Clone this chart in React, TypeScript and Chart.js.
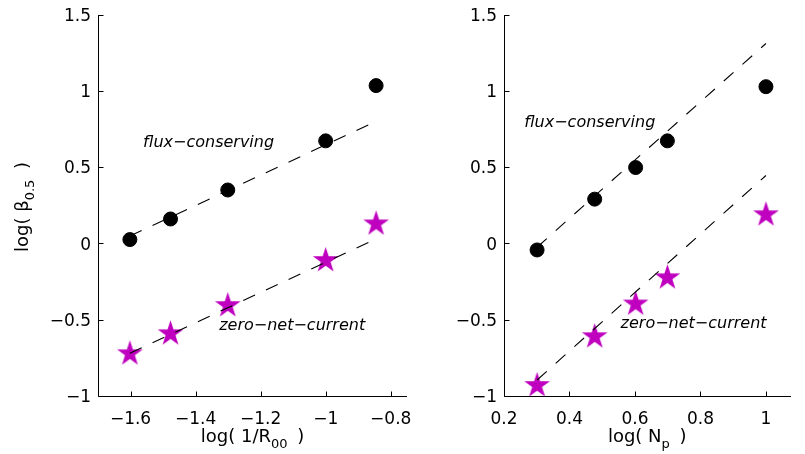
import React, { useEffect, useRef } from "react";
import { Chart, registerables } from "chart.js";

Chart.register(...registerables);

// ---- data ----
const leftX = [-1.602, -1.477, -1.301, -1.0, -0.845];
const leftFlux = [0.025, 0.16, 0.35, 0.672, 1.034];
const leftZero = [-0.723, -0.592, -0.407, -0.112, 0.128];
const leftFitX = [-1.602, -0.845];
const leftFluxFit = [0.048, 0.8];
const leftZeroFit = [-0.72, 0.03];

const rightX = [0.301, 0.477, 0.602, 0.699, 1.0];
const rightFlux = [-0.043, 0.29, 0.497, 0.672, 1.027];
const rightZero = [-0.931, -0.611, -0.397, -0.225, 0.188];
const rightFitX = [0.301, 1.0];
const rightFluxFit = [-0.025, 1.31];
const rightZeroFit = [-0.895, 0.445];

const yTicks = [-1, -0.5, 0, 0.5, 1, 1.5];
const leftXTicks = [-1.6, -1.4, -1.2, -1, -0.8];
const rightXTicks = [0.2, 0.4, 0.6, 0.8, 1];

const labelFlux = "flux\u2212conserving";
const labelZero = "zero\u2212net\u2212current";

const FONT = '"DejaVu Sans", "Liberation Sans", Arial, sans-serif';
const MAGENTA = "rgb(191,0,191)";
const DASH = [13, 12];

const pts = (xs: number[], ys: number[]) => xs.map((x, i) => ({ x, y: ys[i] }));
const fmt = (v: number) => {
  const r = Math.round(v * 1000) / 1000;
  return r < 0 ? "\u2212" + String(Math.abs(r)) : String(r);
};

function makeStar(R: number, color: string) {
  const size = Math.ceil(2 * R + 4);
  const c = document.createElement("canvas");
  c.width = size;
  c.height = size;
  const g = c.getContext("2d")!;
  const cx = size / 2;
  const cy = size / 2;
  const r = R * 0.382;
  g.beginPath();
  for (let i = 0; i < 10; i++) {
    const rad = i % 2 === 0 ? R : r;
    const a = -Math.PI / 2 + (i * Math.PI) / 5;
    const px = cx + rad * Math.cos(a);
    const py = cy + rad * Math.sin(a);
    if (i === 0) g.moveTo(px, py);
    else g.lineTo(px, py);
  }
  g.closePath();
  g.fillStyle = color;
  g.fill();
  return c;
}

function drawComposite(
  ctx: CanvasRenderingContext2D,
  a: string,
  sub: string,
  b: string,
  cx: number,
  baseline: number,
  gap: number
) {
  const big = `18px ${FONT}`;
  const small = `13px ${FONT}`;
  ctx.font = big;
  const wa = ctx.measureText(a).width;
  const wb = ctx.measureText(b).width;
  ctx.font = small;
  const ws = ctx.measureText(sub).width;
  const total = wa + ws + gap + wb;
  let x = cx - total / 2;
  ctx.textAlign = "left";
  ctx.textBaseline = "alphabetic";
  ctx.font = big;
  ctx.fillText(a, x, baseline);
  x += wa;
  ctx.font = small;
  ctx.fillText(sub, x, baseline + 6);
  x += ws + gap;
  ctx.font = big;
  ctx.fillText(b, x, baseline);
}

type PanelCfg = {
  xs: number[];
  flux: number[];
  zero: number[];
  fitX: number[];
  fluxFit: number[];
  zeroFit: number[];
  xTicks: number[];
  xmin: number;
  xmax: number;
  padLeft: number;
  padRight: number;
  xTitle: [string, string, string];
  yTitle: boolean;
  annotations: { text: string; x: number; y: number }[];
};

function Panel({ cfg, width, left }: { cfg: PanelCfg; width: number; left: number }) {
  const ref = useRef<HTMLCanvasElement>(null);
  useEffect(() => {
    const star = makeStar(13.5, MAGENTA);
    const axes = {
      id: "axes",
      afterDraw(chart: any) {
        const ctx: CanvasRenderingContext2D = chart.ctx;
        const area = chart.chartArea;
        const xs = chart.scales.x;
        const ys = chart.scales.y;
        const L = Math.round(area.left) + 0.5;
        const B = Math.round(area.bottom) + 0.5;
        ctx.save();
        ctx.strokeStyle = "#000";
        ctx.lineWidth = 1;
        ctx.beginPath();
        ctx.moveTo(L, Math.round(area.top));
        ctx.lineTo(L, B);
        ctx.lineTo(Math.round(area.right), B);
        for (const t of cfg.xTicks) {
          const px = Math.round(xs.getPixelForValue(t)) + 0.5;
          ctx.moveTo(px, B);
          ctx.lineTo(px, B - 5);
        }
        for (const t of yTicks) {
          const py = Math.round(ys.getPixelForValue(t)) + 0.5;
          ctx.moveTo(L, py);
          ctx.lineTo(L + 5, py);
        }
        ctx.stroke();

        ctx.fillStyle = "#000";
        ctx.font = `17px ${FONT}`;
        ctx.textBaseline = "alphabetic";
        ctx.textAlign = "center";
        for (const t of cfg.xTicks) {
          ctx.fillText(fmt(t), xs.getPixelForValue(t), 424);
        }
        ctx.textAlign = "right";
        for (const t of yTicks) {
          ctx.fillText(fmt(t), area.left - 7, ys.getPixelForValue(t) + 6.2);
        }

        ctx.font = `oblique 16px ${FONT}`;
        ctx.textAlign = "center";
        ctx.textBaseline = "middle";
        for (const a of cfg.annotations) {
          ctx.fillText(a.text, xs.getPixelForValue(a.x), ys.getPixelForValue(a.y));
        }
        drawComposite(
          ctx,
          cfg.xTitle[0],
          cfg.xTitle[1],
          cfg.xTitle[2],
          (area.left + area.right) / 2,
          441.5,
          4
        );
        if (cfg.yTitle) {
          ctx.save();
          ctx.translate(27.5, 207);
          ctx.rotate(-Math.PI / 2);
          drawComposite(ctx, "log( \u03B2", "0.5", " )", 0, 0, 5);
          ctx.restore();
        }
        ctx.restore();
      },
    };
    const chart = new Chart(ref.current!, {
      type: "scatter",
      data: {
        datasets: [
          {
            data: pts(cfg.fitX, cfg.fluxFit),
            showLine: true,
            borderColor: "#000",
            borderWidth: 1.1,
            borderDash: DASH,
            pointRadius: 0,
            clip: false,
          },
          {
            data: pts(cfg.fitX, cfg.zeroFit),
            showLine: true,
            borderColor: "#000",
            borderWidth: 1.1,
            borderDash: DASH,
            pointRadius: 0,
            clip: false,
          },
          {
            data: pts(cfg.xs, cfg.flux),
            pointStyle: "circle",
            pointRadius: 7,
            backgroundColor: "#000",
            borderColor: "#000",
            borderWidth: 1,
            clip: false,
          },
          {
            data: pts(cfg.xs, cfg.zero),
            pointStyle: star,
            pointRadius: 13.5,
            backgroundColor: MAGENTA,
            borderColor: MAGENTA,
            clip: false,
          },
        ] as any,
      },
      options: {
        animation: false,
        responsive: false,
        maintainAspectRatio: false,
        events: [],
        layout: {
          padding: { left: cfg.padLeft, right: cfg.padRight, top: 14, bottom: 58 },
        },
        plugins: { legend: { display: false }, tooltip: { enabled: false } },
        scales: {
          x: { type: "linear", display: false, min: cfg.xmin, max: cfg.xmax },
          y: { type: "linear", display: false, min: -1, max: 1.5 },
        },
      } as any,
      plugins: [axes as any],
    });
    return () => chart.destroy();
  }, [cfg]);
  return (
    <canvas
      ref={ref}
      width={width}
      height={454}
      style={{ position: "absolute", left, top: 0, width, height: 454 }}
    />
  );
}

const leftCfg: PanelCfg = {
  xs: leftX,
  flux: leftFlux,
  zero: leftZero,
  fitX: leftFitX,
  fluxFit: leftFluxFit,
  zeroFit: leftZeroFit,
  xTicks: leftXTicks,
  xmin: -1.7,
  xmax: -0.75,
  padLeft: 98,
  padRight: 23,
  xTitle: ["log( 1/R", "00", " )"],
  yTitle: true,
  annotations: [
    { text: labelFlux, x: -1.36, y: 0.661 },
    { text: labelZero, x: -1.103, y: -0.538 },
  ],
};

const rightCfg: PanelCfg = {
  xs: rightX,
  flux: rightFlux,
  zero: rightZero,
  fitX: rightFitX,
  fluxFit: rightFluxFit,
  zeroFit: rightZeroFit,
  xTicks: rightXTicks,
  xmin: 0.2,
  xmax: 1.075,
  padLeft: 74,
  padRight: 0,
  xTitle: ["log( N", "p", " )"],
  yTitle: false,
  annotations: [
    { text: labelFlux, x: 0.462, y: 0.792 },
    { text: labelZero, x: 0.779, y: -0.524 },
  ],
};

export default function App() {
  return (
    <div
      style={{
        position: "absolute",
        left: 0,
        top: 0,
        width: 805,
        height: 454,
        background: "#fff",
        overflow: "hidden",
      }}
    >
      <Panel cfg={leftCfg} width={430} left={0} />
      <Panel cfg={rightCfg} width={375} left={430} />
    </div>
  );
}
